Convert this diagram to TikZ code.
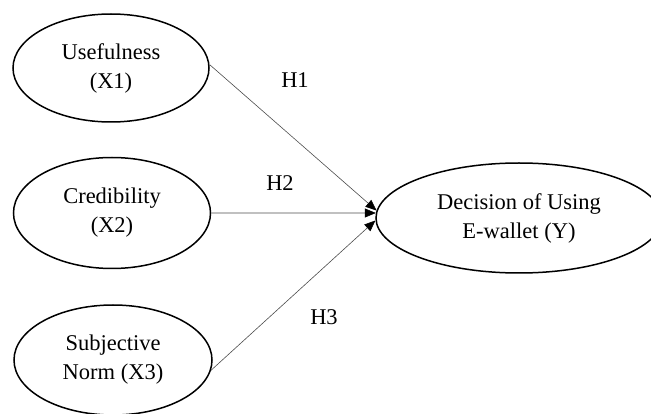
\documentclass[tikz,border=0pt]{standalone}
\usepackage{fontspec}
\setmainfont{Liberation Serif}
\usetikzlibrary{shapes.geometric,arrows.meta}
\begin{document}
\begin{tikzpicture}[x=1pt,y=-1pt,
    construct/.style={ellipse, draw, line width=1.5pt, inner sep=0pt,
      align=center, font=\fontsize{22.5}{29}\selectfont},
    path/.style={draw=black!70, line width=0.6pt,
      -{Triangle[length=11pt,width=9pt,fill=black,color=black]}},
    hypo/.style={font=\fontsize{22.5}{27}\selectfont}]
\useasboundingbox (0,0) rectangle (651,414);

\node[construct, minimum width=196pt, minimum height=108pt] (useful) at (111,68) {Usefulness\\(X1)};
\node[construct, minimum width=197pt, minimum height=111pt] (cred) at (112,213) {Credibility\\(X2)};
\node[construct, minimum width=198pt, minimum height=110pt] (subj) at (113,360) {Subjective\\Norm (X3)};
\node[construct, minimum width=286pt, minimum height=110pt] (decision) at (519,218) {Decision of Using\\E-wallet (Y)};

\draw[path] (useful.2) -- (decision.177.4);
\draw[path] (cred.east) -- (decision.178.3);
\draw[path] (subj.-6) -- (decision.181.5);

\node[hypo] (h1) at (295,80) {H1};
\node[hypo] (h2) at (280,183) {H2};
\node[hypo] (h3) at (324,317) {H3};

\end{tikzpicture}
\end{document}
